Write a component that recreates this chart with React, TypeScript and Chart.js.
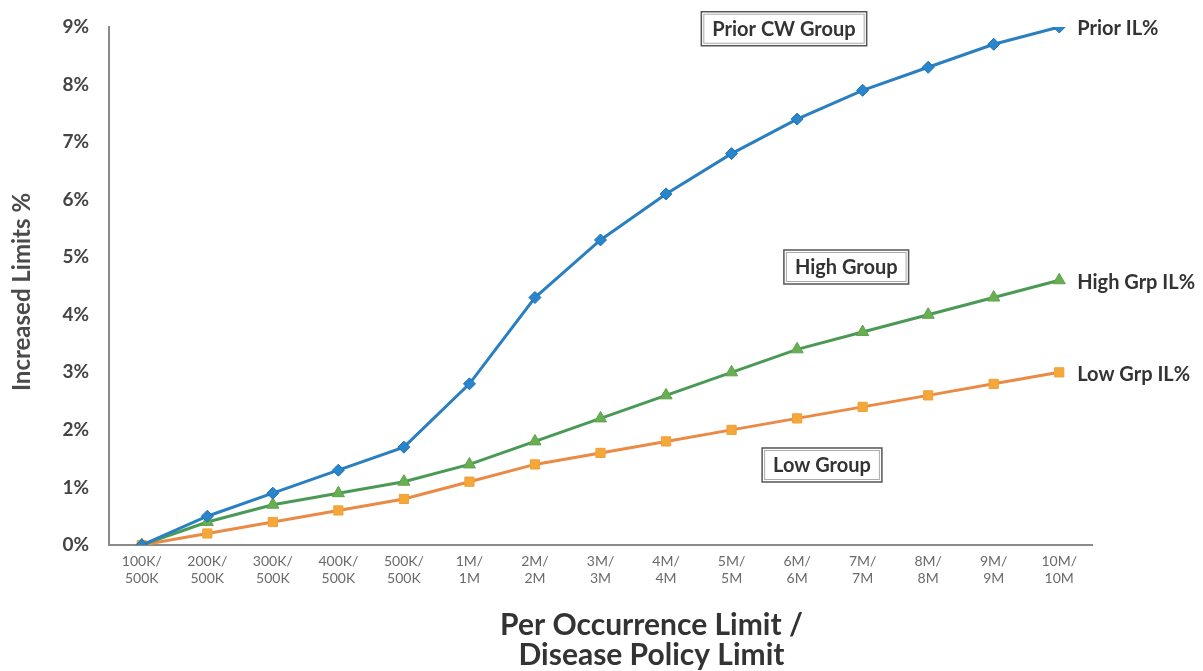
import React, { useEffect, useRef } from "react";
import { Chart, registerables } from "chart.js";

Chart.register(...registerables);

const categories: string[][] = [
  ["100K/", "500K"],
  ["200K/", "500K"],
  ["300K/", "500K"],
  ["400K/", "500K"],
  ["500K/", "500K"],
  ["1M/", "1M"],
  ["2M/", "2M"],
  ["3M/", "3M"],
  ["4M/", "4M"],
  ["5M/", "5M"],
  ["6M/", "6M"],
  ["7M/", "7M"],
  ["8M/", "8M"],
  ["9M/", "9M"],
  ["10M/", "10M"],
];

const priorIL = [0, 0.5, 0.9, 1.3, 1.7, 2.8, 4.3, 5.3, 6.1, 6.8, 7.4, 7.9, 8.3, 8.7, 9.0];
const highIL = [0, 0.4, 0.7, 0.9, 1.1, 1.4, 1.8, 2.2, 2.6, 3.0, 3.4, 3.7, 4.0, 4.3, 4.6];
const lowIL = [0, 0.2, 0.4, 0.6, 0.8, 1.1, 1.4, 1.6, 1.8, 2.0, 2.2, 2.4, 2.6, 2.8, 3.0];

const seriesNames = ["Prior IL%", "High Grp IL%", "Low Grp IL%"];

// group annotation boxes anchored in data coordinates (category index, value)
const groupLabels = ["Prior CW Group", "High Group", "Low Group"];
const groupAnchorX = [9.8, 10.75, 10.38];
const groupAnchorY = [8.97, 4.83, 1.39];

const yAxisTitle = "Increased Limits %";
const xAxisTitle = ["Per Occurrence Limit /", "Disease Policy Limit"];

const FONT = "Lato, 'Open Sans', sans-serif";

const overlayPlugin = {
  id: "overlay",
  afterDraw(chart: any) {
    const ctx = chart.ctx as CanvasRenderingContext2D;
    const xs = chart.scales.x;
    const ys = chart.scales.y;
    const area = chart.chartArea;
    ctx.save();

    // end-of-line series labels
    ctx.font = `bold 20px ${FONT}`;
    ctx.fillStyle = "#333333";
    ctx.textAlign = "left";
    ctx.textBaseline = "middle";
    chart.data.datasets.forEach((ds: any, i: number) => {
      const meta = chart.getDatasetMeta(i);
      const last = meta.data[meta.data.length - 1];
      ctx.fillText(seriesNames[i], last.x + 18, last.y + 2);
    });

    // group boxes
    groupLabels.forEach((t, i) => {
      const cx = xs.getPixelForValue(groupAnchorX[i]);
      const cy = ys.getPixelForValue(groupAnchorY[i]);
      ctx.font = `bold 20px ${FONT}`;
      const w = ctx.measureText(t).width + 22;
      const h = 34;
      ctx.fillStyle = "#ffffff";
      ctx.fillRect(cx - w / 2, cy - h / 2, w, h);
      ctx.strokeStyle = "#555555";
      ctx.lineWidth = 1.5;
      ctx.strokeRect(cx - w / 2, cy - h / 2, w, h);
      ctx.strokeStyle = "#aaaaaa";
      ctx.lineWidth = 1;
      ctx.strokeRect(cx - w / 2 + 2.5, cy - h / 2 + 2.5, w - 5, h - 5);
      ctx.fillStyle = "#333333";
      ctx.textAlign = "center";
      ctx.textBaseline = "middle";
      ctx.fillText(t, cx, cy + 1);
    });

    // y-axis title
    ctx.save();
    ctx.translate(22, (area.top + area.bottom) / 2 + 6);
    ctx.rotate(-Math.PI / 2);
    ctx.font = `bold 24px ${FONT}`;
    ctx.fillStyle = "#4a4a4a";
    ctx.textAlign = "center";
    ctx.textBaseline = "middle";
    ctx.fillText(yAxisTitle, 0, 0);
    ctx.restore();

    // x-axis title
    ctx.font = `bold 30px ${FONT}`;
    ctx.fillStyle = "#333333";
    ctx.textAlign = "center";
    ctx.textBaseline = "middle";
    const tx = (area.left + area.right) / 2 + 51;
    ctx.fillText(xAxisTitle[0], tx, 625);
    ctx.fillText(xAxisTitle[1], tx, 655);

    ctx.restore();
  },
};

export default function App() {
  const ref = useRef<HTMLCanvasElement | null>(null);

  useEffect(() => {
    document.body.style.margin = "0";
    const canvas = ref.current;
    if (!canvas) return;
    const chart = new Chart(canvas, {
      type: "line",
      data: {
        labels: categories,
        datasets: [
          {
            label: seriesNames[0],
            data: priorIL,
            borderColor: "#2a7fc1",
            backgroundColor: "#2a86cc",
            pointBorderColor: "#1f6fae",
            borderWidth: 3,
            pointStyle: "rectRot",
            pointRadius: 6,
            pointBorderWidth: 1,
            tension: 0,
          },
          {
            label: seriesNames[1],
            data: highIL,
            borderColor: "#4a9a55",
            backgroundColor: "#6aae52",
            pointBorderColor: "#5ea24f",
            borderWidth: 3,
            pointStyle: "triangle",
            pointRadius: 7,
            pointBorderWidth: 1,
            tension: 0,
          },
          {
            label: seriesNames[2],
            data: lowIL,
            borderColor: "#ea8a45",
            backgroundColor: "#f4a83a",
            pointBorderColor: "#f0a038",
            borderWidth: 3,
            pointStyle: "rect",
            pointRadius: 6.5,
            pointBorderWidth: 1,
            tension: 0,
          },
        ],
      },
      options: {
        responsive: false,
        animation: false,
        layout: { padding: { left: 48, right: 111, top: 27, bottom: 86 } },
        plugins: {
          legend: { display: false },
          tooltip: { enabled: false },
        },
        scales: {
          x: {
            type: "category",
            offset: true,
            grid: { display: false, drawTicks: false },
            border: { display: true, color: "#8a8a8a", width: 2 },
            ticks: {
              color: "#6a6a6a",
              font: { family: FONT, size: 14 },
              maxRotation: 0,
              autoSkip: false,
              padding: 8,
            },
            afterFit: (s: any) => {
              s.height = 40;
              s.paddingLeft = 0;
              s.paddingRight = 0;
            },
          },
          y: {
            min: 0,
            max: 9,
            grid: { display: false, drawTicks: false },
            border: { display: true, color: "#8a8a8a", width: 2 },
            ticks: {
              stepSize: 1,
              color: "#444444",
              font: { family: FONT, size: 19, weight: "bold" },
              padding: 20,
              callback: (v: any) => `${v}%`,
            },
            afterFit: (s: any) => {
              s.width = 61;
              s.paddingTop = 0;
              s.paddingBottom = 0;
            },
          },
        },
      },
      plugins: [overlayPlugin],
    });
    return () => chart.destroy();
  }, []);

  return (
    <div style={{ width: 1203, height: 671, background: "#ffffff" }}>
      <canvas ref={ref} width={1203} height={671} />
    </div>
  );
}
